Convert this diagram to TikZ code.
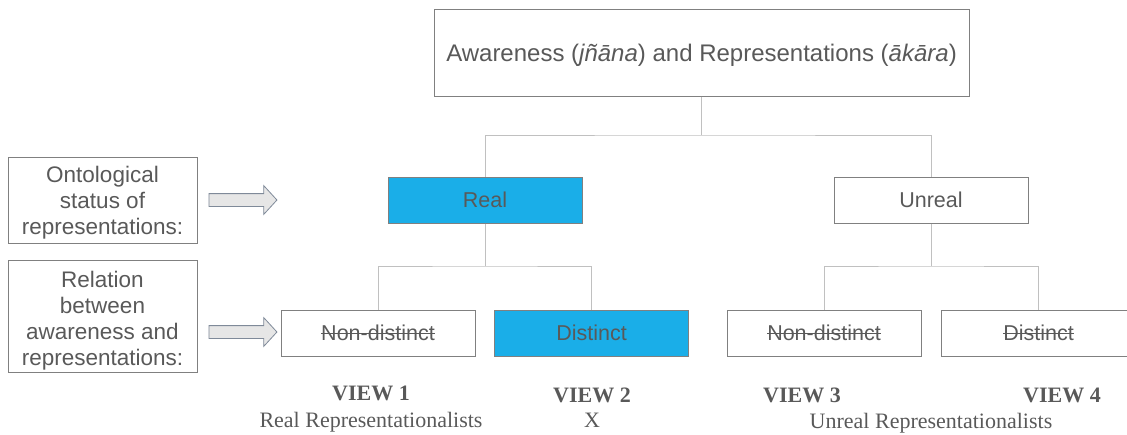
\documentclass[tikz,border=0pt]{standalone}
\usepackage{fontspec}
\setmainfont{Liberation Serif}
\newfontfamily\boxfont{Liberation Sans}
\usetikzlibrary{shapes.arrows}
\definecolor{txt}{HTML}{595959}
\definecolor{bord}{HTML}{808080}
\definecolor{conn}{HTML}{C0C0C0}
\definecolor{blu}{HTML}{1AAEE8}
\definecolor{arrfill}{HTML}{E6E6E6}
\definecolor{arrdraw}{HTML}{7F8A99}
\newcommand{\strk}[1]{\setbox0\hbox{#1}\rlap{\copy0}\rule[0.32em]{\wd0}{1pt}}
\newcommand{\lowered}[2]{\raisebox{-#1}[\height][\depth]{\begin{tabular}{@{}c@{}}#2\end{tabular}}}
\begin{document}
\begin{tikzpicture}[x=1pt,y=-1pt,
  box/.style={draw=bord,line width=1pt,inner sep=0pt,text=txt,font=\boxfont\fontsize{21.5}{24}\selectfont,align=center},
  catbox/.style={box,minimum width=194pt,minimum height=46pt},
  bluebox/.style={catbox,fill=blu},
  sidebox/.style={box,minimum width=189pt,font=\boxfont\fontsize{22.5}{26}\selectfont},
  conn/.style={draw=conn,line width=1pt},
  blockarrow/.style={single arrow,draw=arrdraw,fill=arrfill,line width=0.8pt,minimum height=68pt,inner xsep=0pt,inner ysep=6pt,single arrow head extend=8pt,single arrow tip angle=95},
  viewlbl/.style={text=txt,font=\bfseries\fontsize{22}{24}\selectfont},
  sublbl/.style={text=txt,font=\fontsize{22}{24}\selectfont}]
\useasboundingbox (0,0) rectangle (1127,434);
\clip (0,0) rectangle (1127,434);
% top
\node[box,minimum width=535pt,minimum height=87pt,font=\boxfont\fontsize{24}{27}\selectfont] (top) at (701.5,52.5) {\raisebox{-2.5pt}[\height][\depth]{Awareness (\textit{jñāna}) and Representations (\textit{ākāra})}};
% level 1
\node[bluebox] (real) at (485,200) {Real};
\node[catbox] (unreal) at (931,200) {Unreal};
% level 2
\node[catbox] (nd1) at (378,333) {\strk{Non-distinct}};
\node[bluebox] (d1) at (591.5,333) {Distinct};
\node[catbox] (nd2) at (824,333) {\strk{Non-distinct}};
\node[catbox,anchor=west] (d2) at (941,333) {\makebox[194pt][c]{\strk{Distinct}}\hspace{46pt}};
\coordinate (d2top) at (1038,310);
% left boxes
\node[sidebox,minimum height=86pt] (onto) at (102.5,200) {\lowered{3pt}{Ontological\\status of\\representations:}};
\node[sidebox,minimum height=112pt] (rel) at (102.5,316) {\lowered{5pt}{Relation\\between\\awareness and\\representations:}};
% block arrows
\node[blockarrow] (a1) at (240,200) {};
\node[blockarrow] (a2) at (240,332) {};
% connectors
\coordinate (j0) at (701.5,135);
\coordinate (j1) at (485,266);
\coordinate (j2) at (931,266);
\draw[conn] (top.south) -- (j0);
\draw[conn] (real.north) |- (j0) -| (unreal.north);
\draw[conn] (real.south) -- (j1);
\draw[conn] (nd1.north) |- (j1) -| (d1.north);
\draw[conn] (unreal.south) -- (j2);
\draw[conn] (nd2.north) |- (j2) -| (d2top);
% labels
\node[viewlbl] (v1) at (371,393) {VIEW 1};
\node[sublbl] (s1) at (371,422) {Real Representationalists};
\node[viewlbl] (v2) at (592,395) {VIEW 2};
\node[sublbl] (s2) at (592,420) {X};
\node[viewlbl] (v3) at (802,395) {VIEW 3};
\node[viewlbl] (v4) at (1062,395) {VIEW 4};
\node[sublbl] (s3) at (931,423) {Unreal Representationalists};
\end{tikzpicture}
\end{document}
